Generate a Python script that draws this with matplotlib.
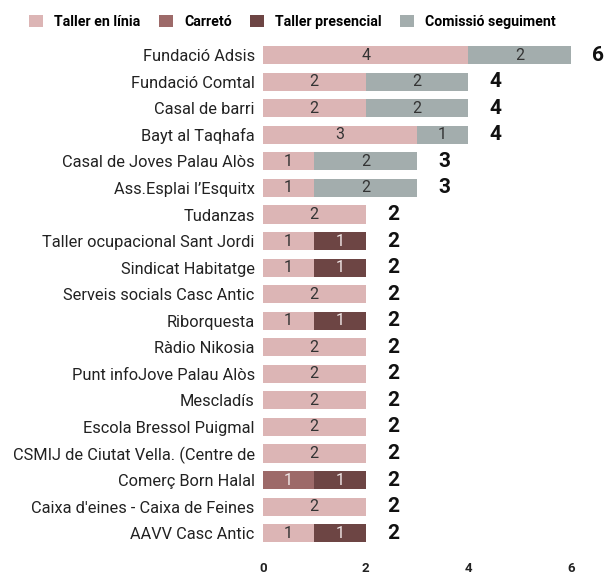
import matplotlib.pyplot as plt
import numpy as np

plt.rcParams['font.family'] = ['Roboto', 'DejaVu Sans']

entitats = ["Fundació Adsis", "Fundació Comtal", "Casal de barri", "Bayt al Taqhafa",
            "Casal de Joves Palau Alòs", "Ass.Esplai l’Esquitx", "Tudanzas",
            "Taller ocupacional Sant Jordi", "Sindicat Habitatge", "Serveis socials Casc Antic",
            "Riborquesta", "Ràdio Nikosia", "Punt infoJove Palau Alòs", "Mescladís",
            "Escola Bressol Puigmal", "CSMIJ de Ciutat Vella. (Centre de",
            "Comerç Born Halal", "Caixa d'eines - Caixa de Feines", "AAVV Casc Antic"]
taller_linia = [4, 2, 2, 3, 1, 1, 2, 1, 1, 2, 1, 2, 2, 2, 2, 2, 0, 2, 1]
carreto = [0, 0, 0, 0, 0, 0, 0, 0, 0, 0, 0, 0, 0, 0, 0, 0, 1, 0, 0]
taller_presencial = [0, 0, 0, 0, 0, 0, 0, 1, 1, 0, 1, 0, 0, 0, 0, 0, 1, 0, 1]
comissio = [2, 2, 2, 1, 2, 2, 0, 0, 0, 0, 0, 0, 0, 0, 0, 0, 0, 0, 0]

series = [("Taller en línia", taller_linia, "#dcb5b5", "#333333"),
          ("Carretó", carreto, "#9d6a69", "#f0e6e6"),
          ("Taller presencial", taller_presencial, "#6d4544", "#f0e6e6"),
          ("Comissió seguiment", comissio, "#a3adad", "#333333")]

fig = plt.figure(figsize=(6.06, 5.74), dpi=100)
ax = fig.add_axes([0.434, 0.048, 0.508, 0.879])

y = np.arange(len(entitats))
left = np.zeros(len(entitats))
for nom, vals, col, tcol in series:
    vals = np.array(vals, dtype=float)
    ax.barh(y, vals, left=left, height=0.68, color=col, label=nom)
    for yi, l, v in zip(y, left, vals):
        if v > 0:
            ax.text(l + v / 2, yi, str(int(v)), ha='center', va='center',
                    fontsize=11.5, color=tcol)
    left = left + vals

for yi, tot in zip(y, left):
    ax.text(tot + 0.53, yi, str(int(tot)), ha='center', va='center',
            fontsize=15, fontweight='bold', color='#111111', clip_on=False)

ax.set_yticks(y)
ax.set_yticklabels(entitats, fontsize=11.8, color='#222222')
ax.set_ylim(len(entitats) - 0.5, -0.5)
ax.set_xlim(0, 6)
ax.set_xticks([0, 2, 4, 6])
ax.set_xticklabels(['0', '2', '4', '6'], fontsize=9.5, fontweight='bold', color='#222222')
ax.tick_params(axis='both', length=0)
ax.tick_params(axis='x', pad=11)
ax.tick_params(axis='y', pad=6)
for s in ax.spines.values():
    s.set_visible(False)

leg = fig.legend(loc='center left', bbox_to_anchor=(0.048, 0.962), ncol=4, frameon=False,
                 prop={'weight': 'bold', 'size': 10.2}, handlelength=0.99, handleheight=0.99,
                 handletextpad=0.78, columnspacing=1.3, borderpad=0, borderaxespad=0)

fig.savefig("out.png", dpi=100)
